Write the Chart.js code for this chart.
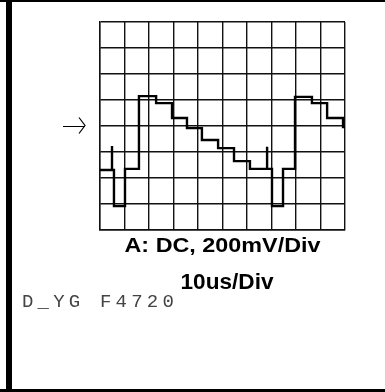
<!DOCTYPE html>
<html>
<head>
<meta charset="utf-8">
<script src="https://cdn.jsdelivr.net/npm/chart.js@4"></script>
<style>
  html, body { margin: 0; padding: 0; background: #fff; }
  #wrap { position: relative; width: 385px; height: 392px; }
</style>
</head>
<body>
<div id="wrap"><canvas id="scope"></canvas></div>
<script>
// trace, in divisions (x: 0..10 time divs, y: 0..8 volt divs)
const traceX = [0, 0.49, 0.49, 0.49, 0.57, 0.57, 1.02, 1.02, 1.59, 1.59, 2.29, 2.29,
  2.94, 2.94, 3.55, 3.55, 4.16, 4.16, 4.82, 4.82, 5.47, 5.47, 6.12, 6.12,
  6.82, 6.82, 6.82, 7.02, 7.02, 7.47, 7.47, 7.96, 7.96, 8.65, 8.65, 9.27, 9.27,
  9.92, 9.92, 10];
const traceY = [2.31, 2.31, 3.23, 2.31, 2.31, 0.92, 0.92, 2.35, 2.35, 5.15, 5.15, 4.88,
  4.88, 4.31, 4.31, 3.92, 3.92, 3.46, 3.46, 3.15, 3.15, 2.65, 2.65, 2.35,
  2.35, 3.2, 2.35, 2.35, 0.92, 0.92, 2.35, 2.35, 5.12, 5.12, 4.88, 4.88, 4.31,
  4.31, 3.96, 3.96];

const xDivs = 10;
const yDivs = 8;
const groundDiv = 4; // arrow marker level

const chanLabel = "A: DC, 200mV/Div";
const timeLabel = "10us/Div";
const tagLabel = "D_YG F4720";

const points = traceX.map((x, i) => ({ x: x, y: traceY[i] }));

// draw centred text stretched to a given width
function fitText(ctx, text, cx, base, width) {
  const w = ctx.measureText(text).width;
  ctx.save();
  ctx.translate(cx, base);
  ctx.scale(width / w, 1);
  ctx.textAlign = "center";
  ctx.fillText(text, 0, 0);
  ctx.restore();
}

// frame, arrow and captions
const decor = {
  id: "decor",
  afterDraw(chart) {
    const ctx = chart.ctx;
    const area = chart.chartArea;
    const ys = chart.scales.y;
    ctx.save();
    ctx.fillStyle = "#000";
    ctx.fillRect(0, 0, 385, 2);
    ctx.fillRect(6, 0, 6, 392);
    ctx.fillRect(0, 389, 385, 3);

    // ground arrow
    const gy = Math.round(ys.getPixelForValue(groundDiv)) + 0.5;
    ctx.strokeStyle = "#000";
    ctx.lineWidth = 1.2;
    ctx.beginPath();
    ctx.moveTo(63, gy);
    ctx.lineTo(85, gy);
    ctx.moveTo(79, gy - 9);
    ctx.lineTo(85, gy - 1);
    ctx.lineTo(79, gy + 7);
    ctx.stroke();

    // captions
    ctx.fillStyle = "#000";
    ctx.textBaseline = "alphabetic";
    ctx.font = "bold 21px 'Liberation Sans', Arial, sans-serif";
    fitText(ctx, chanLabel, (area.left + area.right) / 2, 252, 196);
    ctx.font = "bold 22px 'Liberation Sans', Arial, sans-serif";
    fitText(ctx, timeLabel, 227, 289, 93);

    ctx.fillStyle = "#444";
    ctx.font = "19px 'Liberation Mono', monospace";
    ctx.textAlign = "left";
    for (let i = 0; i < tagLabel.length; i++) {
      ctx.fillText(tagLabel[i], 22 + i * 15.6, 307);
    }
    ctx.restore();
  },
};

new Chart(document.getElementById("scope").getContext("2d"), {
  type: "scatter",
  data: {
    datasets: [
      {
        data: points,
        showLine: true,
        borderColor: "#000",
        borderWidth: 2.4,
        pointRadius: 0,
        tension: 0,
      },
    ],
  },
  options: {
    animation: false,
    responsive: true,
    maintainAspectRatio: false,
    layout: { padding: { left: 100, right: 40, top: 22, bottom: 162 } },
    plugins: { legend: { display: false }, tooltip: { enabled: false } },
    scales: {
      x: {
        type: "linear",
        min: 0,
        max: xDivs,
        ticks: { display: false, stepSize: 1 },
        grid: { color: "#111", lineWidth: 1.4, drawTicks: false },
        border: { display: true, color: "#111", width: 1.4 },
      },
      y: {
        type: "linear",
        min: 0,
        max: yDivs,
        ticks: { display: false, stepSize: 1 },
        grid: { color: "#111", lineWidth: 1.4, drawTicks: false },
        border: { display: true, color: "#111", width: 1.4 },
      },
    },
  },
  plugins: [decor],
});
</script>
</body>
</html>
